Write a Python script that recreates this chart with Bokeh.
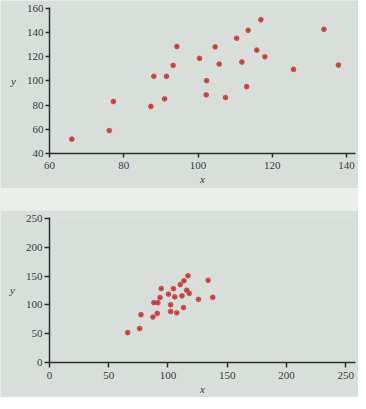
from bokeh.plotting import figure
from bokeh.layouts import column
from bokeh.models import ColumnDataSource, FixedTicker
from bokeh.embed import file_html
from bokeh.resources import INLINE

# Data (same 25 points in both panels)
xs = [66.0, 76.1, 77.2, 87.3, 88.1, 91.0, 91.5, 93.3, 94.3, 100.4, 102.2, 102.3,
      104.6, 105.7, 107.4, 110.4, 111.8, 113.1, 113.5, 115.8, 116.9, 118.0,
      125.7, 133.9, 137.8]
ys = [51.8, 58.9, 82.9, 78.8, 103.7, 85.1, 103.7, 112.7, 128.3, 118.5, 88.4, 100.1,
      128.0, 113.8, 86.2, 135.1, 115.5, 95.2, 141.7, 125.3, 150.4, 119.8,
      109.4, 142.5, 113.0]
top_xticks = [60, 80, 100, 120, 140]
top_yticks = [40, 60, 80, 100, 120, 140, 160]
bot_ticks = [0, 50, 100, 150, 200, 250]

PANEL = "#d8dfdb"
PAGE = "#eceeec"
AXIS = "#2e2e2e"
FONT = "Liberation Serif"

src = ColumnDataSource(dict(x=xs, y=ys))


def style(p, xticks, yticks, tick_out):
    p.background_fill_color = PANEL
    p.border_fill_color = PANEL
    p.outline_line_color = None
    p.xgrid.visible = False
    p.ygrid.visible = False
    for ax, ticks in ((p.xaxis[0], xticks), (p.yaxis[0], yticks)):
        ax.ticker = FixedTicker(ticks=ticks)
        ax.minor_tick_line_color = None
        ax.major_tick_in = 0
        ax.major_tick_out = tick_out
        ax.axis_line_color = AXIS
        ax.axis_line_width = 1.5
        ax.major_tick_line_color = AXIS
        ax.major_tick_line_width = 1.5
        ax.major_label_text_font = FONT
        ax.major_label_text_font_size = "11px"
        ax.major_label_text_color = "#3a3a3a"
        ax.axis_label_text_font = FONT
        ax.axis_label_text_font_style = "italic"
        ax.axis_label_text_font_size = "11px"
        ax.axis_label_text_color = "#3a3a3a"
    p.xaxis[0].major_label_standoff = 4
    p.xaxis[0].axis_label_standoff = 1
    p.yaxis[0].major_label_standoff = 2
    p.yaxis[0].axis_label_standoff = 8
    p.yaxis[0].axis_label_orientation = "horizontal"
    p.scatter("x", "y", source=src, size=4.8, fill_color="#e05050",
              line_color="#c03434", line_width=0.7)
    p.scatter("x", "y", source=src, size=1.8, fill_color="#9a2a2a", line_color=None)


top = figure(width=358, height=188, x_range=(60, 142.4), y_range=(40, 160.5),
             output_backend="svg", toolbar_location=None,
             min_border_left=49, min_border_right=3, min_border_top=7,
             min_border_bottom=35, x_axis_label="x", y_axis_label="y")
style(top, top_xticks, top_yticks, 4)

bot = figure(width=358, height=187, x_range=(0, 258.3), y_range=(0, 251.5),
             output_backend="svg", toolbar_location=None,
             min_border_left=45, min_border_right=3, min_border_top=7,
             min_border_bottom=33, x_axis_label="x", y_axis_label="y")
style(bot, bot_ticks, bot_ticks, 5)

layout = column(top, bot, spacing=22, styles={"background-color": PAGE})

open("out.html", "w").write(file_html(layout, INLINE))
